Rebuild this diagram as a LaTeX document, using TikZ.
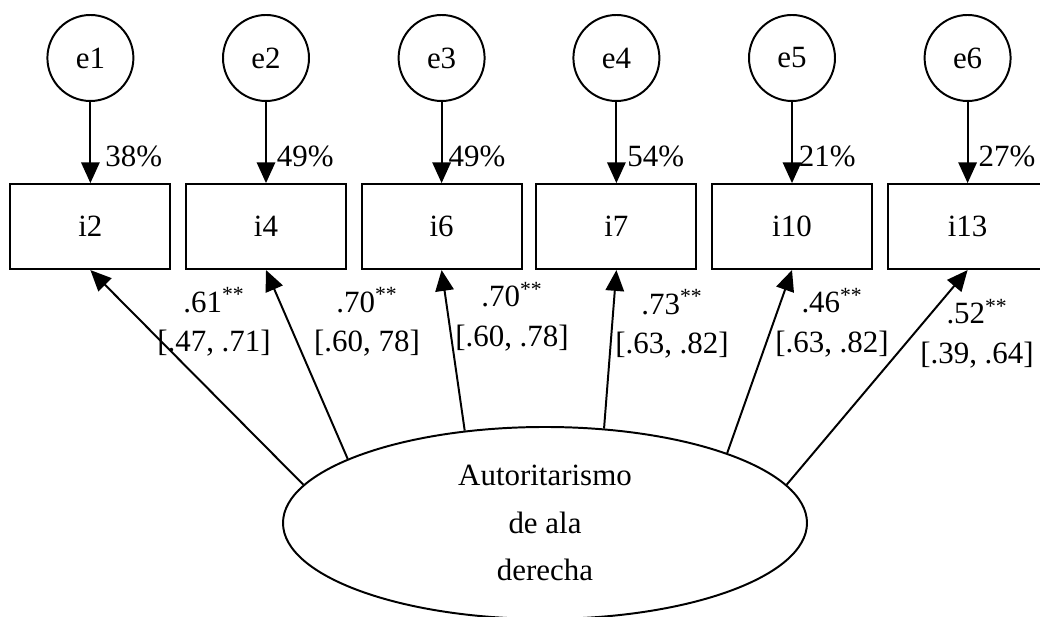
\documentclass[tikz,border=0pt]{standalone}
\usepackage{fontspec}
\setmainfont{Liberation Serif}
\usetikzlibrary{arrows.meta,shapes.geometric}

\begin{document}
\begin{tikzpicture}[every node/.style={font=\fontsize{22}{28}\selectfont}, >={Triangle[length=5.2mm,width=4.6mm]}, line width=1.4pt,
	err/.style={draw, circle, minimum size=2.15cm, inner sep=0pt},
	item/.style={draw, rectangle, minimum width=4cm, minimum height=2.125cm, inner sep=0pt},
	pct/.style={right, pos=0.67, xshift=2.5mm, inner sep=0pt},
	load/.style={align=center, inner sep=0pt}]
	\useasboundingbox (0,0) rectangle (26,15.425);
	% error terms
	\node[err] (e1) at (2.26,13.975) {e1};
	\node[err] (e2) at (6.65,13.975) {e2};
	\node[err] (e3) at (11.04,13.975) {e3};
	\node[err] (e4) at (15.41,13.975) {e4};
	\node[err] (e5) at (19.80,13.975) {e5};
	\node[err] (e6) at (24.19,13.975) {e6};
	% observed items
	\node[item] (i2) at (2.26,9.76) {i2};
	\node[item] (i4) at (6.65,9.76) {i4};
	\node[item] (i6) at (11.04,9.76) {i6};
	\node[item] (i7) at (15.41,9.76) {i7};
	\node[item] (i10) at (19.80,9.76) {i10};
	\node[item] (i13) at (24.19,9.76) {i13};
	% latent factor
	\node[draw, ellipse, minimum width=13.1cm, minimum height=4.8cm, inner sep=0pt, align=center, font=\fontsize{22}{34}\selectfont] (rwa) at (13.625,2.35) {Autoritarismo\\de ala\\derecha};
	% residual paths
	\draw[->] (e1) -- node[pct, xshift=1mm] (p1) {38\%} (i2);
	\draw[->] (e2) -- node[pct] (p2) {49\%} (i4);
	\draw[->] (e3) -- node[pct, xshift=-1mm] (p3) {49\%} (i6);
	\draw[->] (e4) -- node[pct] (p4) {54\%} (i7);
	\draw[->] (e5) -- node[pct, xshift=-1mm] (p5) {21\%} (i10);
	\draw[->] (e6) -- node[pct] (p6) {27\%} (i13);
	% factor loadings
	\draw[->] (rwa.171.8) -- (i2.south);
	\draw[->] (rwa.162) -- (i4.south);
	\draw[->] (rwa.131.7) -- (i6.south);
	\draw[->] (rwa.58.9) -- (i7.south);
	\draw[->] (rwa.21.3) -- (i10.south);
	\draw[->] (rwa.9.4) -- (i13.south);
	\node[load] (l1) at (5.35,7.375) {.61\textsuperscript{**}\\{}[.47, .71]};
	\node[load] (l2) at (9.175,7.375) {.70\textsuperscript{**}\\{}[.60, 78]};
	\node[load] (l3) at (12.8,7.51) {.70\textsuperscript{**}\\{}[.60, .78]};
	\node[load] (l4) at (16.8,7.325) {.73\textsuperscript{**}\\{}[.63, .82]};
	\node[load] (l5) at (20.8,7.36) {.46\textsuperscript{**}\\{}[.63, .82]};
	\node[load] (l6) at (24.425,7.09) {.52\textsuperscript{**}\\{}[.39, .64]};
\end{tikzpicture}
\end{document}
